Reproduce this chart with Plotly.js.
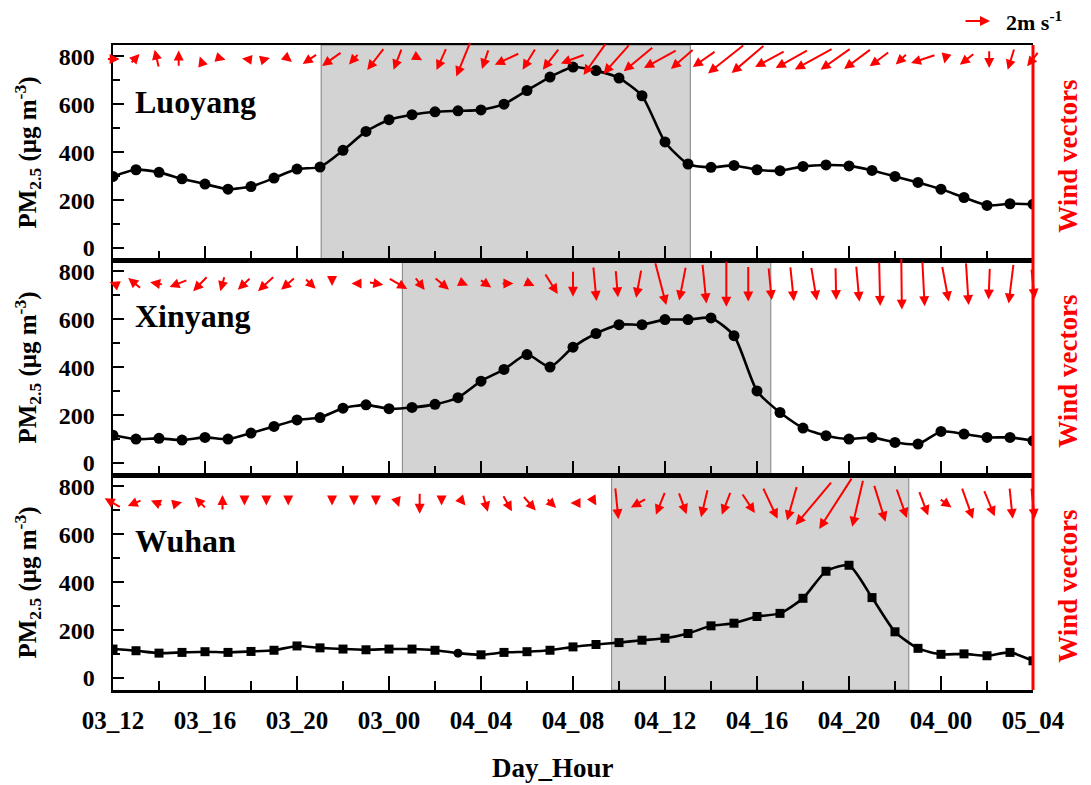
<!DOCTYPE html>
<html><head><meta charset="utf-8">
<script src="https://cdn.plot.ly/plotly-3.0.1.min.js"></script>
<style>html,body{margin:0;padding:0;background:#fff}#chart{width:1091px;height:785px}</style>
</head><body><div id="chart"></div>
<script>
// ---------------- data ----------------
const hours = [0,1,2,3,4,5,6,7,8,9,10,11,12,13,14,15,16,17,18,19,20,21,22,23,24,25,26,27,28,29,30,31,32,33,34,35,36,37,38,39,40];
const tickHours = [0,4,8,12,16,20,24,28,32,36,40];
const tickLabels = ['03_12','03_16','03_20','03_00','04_04','04_08','04_12','04_16','04_20','04_00','05_04'];
const stations = ['Luoyang','Xinyang','Wuhan'];

const pmLuoyang = [299,327,316,289,267,246,257,292,330,338,408,487,536,557,569,573,577,601,658,714,756,741,710,636,443,351,337,345,327,323,341,347,343,324,299,274,246,211,178,185,183];
const pmXinyang = [116,100,103,96,107,100,125,153,180,190,229,243,227,232,245,273,342,391,453,401,484,541,578,578,599,599,606,532,301,211,146,114,100,107,86,79,132,121,107,107,93];
const pmWuhan   = [121,114,104,107,110,107,111,116,134,126,121,118,121,121,116,104,97,107,110,116,130,140,148,158,166,186,218,229,257,270,333,446,471,336,193,124,99,101,93,107,72];

// shaded pollution episodes (hours from 03_12)
const episodeStart = [9.05, 12.58, 21.68];
const episodeEnd   = [25.1, 28.6, 34.6];

// wind vectors (m/s), 43 records per station
const windLuoyangU = [1.02,0.72,-0.33,0,-0.13,0.46,-0.38,0.56,0.56,-1.15,-1.54,-0.77,-1.33,-0.64,0.38,-0.77,-1.10,-0.52,-1.92,-1.02,-1.28,-1.87,-1.75,-2.05,-2.31,-2.56,-1.79,-1.79,-2.82,-2.56,-2.31,-2.52,-2.95,-2.36,-2.10,-1.54,-0.90,-1.92,-0.15,-1.15,0,-0.52,-0.90];
const windLuoyangV = [0,0.77,1.41,1.28,0.38,-0.13,0.05,0.15,-0.46,-0.77,-1.08,-0.85,-1.72,-1.67,-0.21,-1.72,-2.69,-1.54,-0.90,-1.67,-1.67,-0.69,-2.46,-2.31,-1.92,-1.41,-1.56,-1.25,-2.23,-2.18,-1.25,-1.41,-1.62,-1.67,-1.56,-1.15,-0.85,-0.64,-0.69,-0.90,-1.41,-1.67,-1.15];
const windXinyangU = [-0.52,-1.02,-1.02,-1.41,-1.15,-0.33,-1.02,-1.28,-1.10,0.85,0,-0.38,1.15,1.46,0.77,1.15,0.72,0.90,0.95,0.82,1.02,0,0.25,0.18,-0.41,0.87,-0.52,0.31,0,0,0.25,0.28,0.44,0.05,0.25,0.08,0.05,0.18,0.52,0.21,-0.10,-0.38,0.25];
const windXinyangV = [0.21,0.85,0.18,-0.56,-1.18,-1.18,-0.95,-1.18,-0.95,-0.82,-0.38,0,-0.18,-0.85,-1.02,-0.95,-0.31,-0.64,0,-0.38,-1.62,-2.05,-2.69,-2.13,-2.21,-3.33,-2.64,-3.08,-3.59,-2.77,-2.56,-2.72,-2.64,-2.56,-2.82,-3.46,-4.02,-3.52,-2.77,-3.33,-2.48,-3.08,-2.36];
const windWuhanU = [-1.28,-1.10,-0.90,0.52,-0.90,0,0,0,0,null,0,0,0,0.21,0,0,0.31,0.38,0.72,1.02,0.77,-0.38,0.23,0.25,-1.21,-0.72,0.62,-0.52,-0.69,1.02,1.15,-0.77,-2.82,-2.56,-0.85,0.90,0.82,0.72,0.95,0.87,0.85,0.25,0.25];
const windWuhanV = [0.72,-0.46,0.38,0.13,0.90,1.23,-0.38,-0.38,-0.38,null,-0.38,-0.38,-0.38,-0.62,-1.67,-0.38,-0.38,-1.36,-1.28,-1.15,-0.77,0,-0.38,-2.48,-0.69,-1.79,-1.72,-2.18,-1.79,-1.54,-2.44,-2.69,-3.38,-3.98,-3.67,-2.87,-2.31,-1.92,-0.69,-2.44,-2.05,-2.44,-2.44];
const windRefSpeed = 2; // legend arrow, m/s

// ---------------- style ----------------
const FONT = 'Liberation Serif, Times New Roman, serif';
const RED = '#ff0000';
const PX_PER_MS = 13;            // arrow length per 1 m/s (pixels)
const W = 1091, H = 785;
const M = {l:113, r:58, t:45, b:95};
const plotW = W - M.l - M.r, plotH = H - M.t - M.b;
const px2paperX = p => (p - M.l) / plotW;
const px2paperY = p => (H - M.b - p) / plotH;

const pmSeries = [pmLuoyang, pmXinyang, pmWuhan];
const windU = [windLuoyangU, windXinyangU, windWuhanU];
const windV = [windLuoyangV, windXinyangV, windWuhanV];
const windRow = [790, 750, 731];     // y level (µg m-3 scale) where arrows sit
const labelY = [611, 615, 574];
const domains = [[2/3, 1], [1/3, 2/3], [0, 1/3]];

const traces = [];
const layout = {
  width: W, height: H, margin: M, showlegend: false,
  paper_bgcolor: '#fff', plot_bgcolor: 'rgba(0,0,0,0)',
  font: {family: FONT, color: '#000'},
  shapes: [], annotations: []
};

pmSeries.forEach((ys, p) => {
  const n = p + 1, xa = 'x' + n, ya = 'y' + n;
  const isWuhan = p === 2;
  traces.push({
    type: 'scatter', mode: 'lines+markers', x: hours, y: ys,
    xaxis: xa, yaxis: ya,
    line: {color: '#000', width: 2.6, shape: 'spline', smoothing: 0.6},
    marker: {color: '#000', size: isWuhan ? 9 : 11,
             symbol: isWuhan ? hours.map(h => h === 15 ? 'circle' : 'square') : 'circle'},
    hoverinfo: 'skip'
  });
  layout['xaxis' + n] = {
    domain: [0, 1], range: [0, 40], anchor: ya,
    showline: true, linecolor: '#000', linewidth: 2.5, mirror: true,
    showgrid: false, zeroline: false,
    ticks: 'inside', ticklen: 14, tickwidth: 2, tickcolor: '#000',
    tickmode: 'array', tickvals: tickHours, ticktext: tickLabels,
    showticklabels: p === 2,
    tickfont: {family: FONT, size: 25, weight: 'bold', color: '#000'},
    ticklabelstandoff: 6,
    minor: {dtick: 2, tick0: 0, ticks: 'inside', ticklen: 9, tickwidth: 2, tickcolor: '#000'}
  };
  layout['yaxis' + n] = {
    domain: domains[p], range: [-50, 848], anchor: xa,
    showline: true, linecolor: '#000', linewidth: 2.5, mirror: false,
    showgrid: false, zeroline: false,
    ticks: 'inside', ticklen: 11, tickwidth: 2, tickcolor: '#000',
    tickmode: 'array', tickvals: [0, 200, 400, 600, 800],
    tickfont: {family: FONT, size: 24, weight: 'bold', color: '#000'},
    ticklabelstandoff: 11,
    minor: {dtick: 100, tick0: 0, ticks: 'inside', ticklen: 7, tickwidth: 2, tickcolor: '#000'}
  };
  // episode shading
  layout.shapes.push({
    type: 'rect', xref: xa, yref: ya + ' domain',
    x0: episodeStart[p], x1: episodeEnd[p], y0: 0, y1: 1,
    fillcolor: '#d3d3d3', line: {color: '#808080', width: 1}, layer: 'below'
  });
  // station label
  layout.annotations.push({
    xref: xa, yref: ya, x: 0.87, y: labelY[p], xanchor: 'left', yanchor: 'middle',
    text: '<b>' + stations[p] + '</b>', showarrow: false,
    font: {family: FONT, size: 32, color: '#000'}
  });
  // y title
  layout.annotations.push({
    xref: 'paper', yref: ya + ' domain', x: px2paperX(27), y: 0.5,
    xanchor: 'center', yanchor: 'middle', textangle: -90, showarrow: false,
    text: '<b>PM<sub>2.5</sub> (μg m<sup>-3</sup>)</b>',
    font: {family: FONT, size: 25, color: '#000'}
  });
  // right label
  layout.annotations.push({
    xref: 'paper', yref: ya + ' domain', x: px2paperX(1068), y: 0.48,
    xanchor: 'center', yanchor: 'middle', textangle: -90, showarrow: false,
    text: '<b>Wind vectors</b>',
    font: {family: FONT, size: 27, color: RED}
  });
  // wind vectors
  windU[p].forEach((u, i) => {
    const v = windV[p][i];
    if (u === null || v === null) return;
    const dx = u * PX_PER_MS, dy = v * PX_PER_MS;
    layout.annotations.push({
      xref: 'x4', yref: ya, x: i, y: windRow[p],
      xshift: dx / 2, yshift: dy / 2, ax: -dx, ay: dy, axref: 'pixel', ayref: 'pixel',
      text: '', showarrow: true, arrowhead: 2, arrowsize: 1.0, arrowwidth: 2,
      arrowcolor: RED, standoff: 0, startstandoff: 0
    });
  });
});

// hidden axis indexing the 43 wind records across the same span
layout.xaxis4 = {overlaying: 'x', range: [0, 42], visible: false, anchor: 'y1'};
traces.push({type: 'scatter', x: [0], y: [null], xaxis: 'x4', yaxis: 'y', hoverinfo: 'skip', showlegend: false});

// right red border
layout.shapes.push({type: 'line', xref: 'paper', yref: 'paper', x0: 1, x1: 1, y0: 0, y1: 1,
  line: {color: RED, width: 3}, layer: 'above'});

// x title
layout.annotations.push({
  xref: 'paper', yref: 'paper', x: px2paperX(553), y: px2paperY(768), xanchor: 'center', yanchor: 'middle',
  text: '<b>Day_Hour</b>', showarrow: false, font: {family: FONT, size: 27, color: '#000'}
});

// legend: reference arrow
layout.annotations.push({
  xref: 'paper', yref: 'paper', x: px2paperX(990), y: px2paperY(21),
  ax: -windRefSpeed * PX_PER_MS, ay: 0, axref: 'pixel', ayref: 'pixel',
  text: '', showarrow: true, arrowhead: 2, arrowsize: 1.0, arrowwidth: 2, arrowcolor: RED, standoff: 0
});
layout.annotations.push({
  xref: 'paper', yref: 'paper', x: px2paperX(1004), y: px2paperY(21), xanchor: 'left', yanchor: 'middle',
  text: '<b>' + windRefSpeed + 'm s<sup>-1</sup></b>', showarrow: false,
  font: {family: FONT, size: 22, color: '#000'}
});

Plotly.newPlot('chart', traces, layout, {staticPlot: true, displayModeBar: false});
</script>
</body></html>
